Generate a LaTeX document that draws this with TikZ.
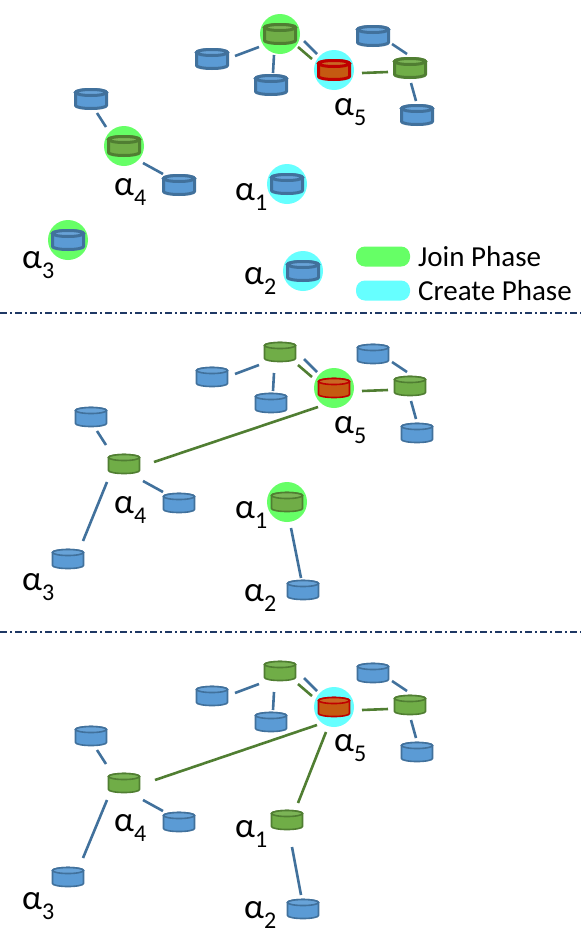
\documentclass[tikz,border=0pt]{standalone}
\usepackage{fontspec}
\setmainfont{Carlito}
\definecolor{dbb}{HTML}{5B9BD5}\definecolor{dbbb}{HTML}{41719C}
\definecolor{dbg}{HTML}{70AD47}\definecolor{dbgb}{HTML}{507E32}
\definecolor{dbr}{HTML}{C55A11}\definecolor{dbrb}{HTML}{C00000}
\definecolor{halog}{HTML}{66FF66}\definecolor{haloc}{HTML}{66FFFF}
\definecolor{sep}{HTML}{1F3864}
\tikzset{
 x=1pt,y=-1pt,
 dbbox/.style={rectangle,minimum width=31pt,minimum height=20pt,inner sep=0pt,outer sep=0pt},
 halo/.style={circle,minimum size=40pt,inner sep=0pt},
 hgreen/.style={halo,fill=halog},
 hcyan/.style={halo,fill=haloc},
 bline/.style={draw=dbbb,line width=2.6pt},
 gline/.style={draw=dbgb,line width=2.6pt},
 lab/.style={anchor=west,inner sep=0pt},
 legbox/.style={fill=#1,rounded corners=9pt,minimum width=54pt,minimum height=20pt,inner sep=0pt},
 legtext/.style={anchor=west,inner sep=0pt,font=\fontsize{29}{29}\selectfont},
 sepline/.style={draw=sep,line width=1.2pt,dash pattern=on 7pt off 3pt on 2pt off 3pt},
}
\newlength{\dbw}
% database cylinder: name, position, colour name
\newcommand{\db}[3]{%
 \node[dbbox] (#1) at (#2) {};
 \filldraw[draw=#3b,fill=#3,line width=\dbw,line join=round]
   ([shift={(-15.5,-6.5)}]#1.center) -- ([shift={(-15.5,6.5)}]#1.center)
   arc[start angle=180,end angle=360,x radius=15.5pt,y radius=3pt]
   -- ([shift={(15.5,-6.5)}]#1.center)
   arc[start angle=0,end angle=180,x radius=15.5pt,y radius=3pt] -- cycle;
 \filldraw[draw=#3b,fill=#3!92!white,line width=\dbw]
   ([shift={(0,-6.5)}]#1.center) ellipse[x radius=15.5pt,y radius=3pt];
}
\newcommand{\conn}[5]{\draw[#1] ([shift={(#3)}]#2.center) -- ([shift={(#5)}]#4.center);}
\newcommand{\alab}[1]{{\fontsize{35}{35}\selectfont α\raisebox{-10pt}{\fontsize{24}{24}\selectfont #1}}}
% common cluster: prefix, y offset from first panel
\newcommand{\cluster}[2]{%
 \db{#1a}{280,34+#2}{dbg}
 \db{#1b}{212,59+#2}{dbb}
 \db{#1c}{271,85+#2}{dbb}
 \db{#1e}{373,36+#2}{dbb}
 \db{#1f}{410,68+#2}{dbg}
 \db{#1g}{417,115+#2}{dbb}
 \db{#1h}{91,99+#2}{dbb}
 \db{#1i}{124,146+#2}{dbg}
 \db{#1j}{179,185+#2}{dbb}
 \conn{bline}{#1b}{23,-3}{#1a}{-21,13}
 \conn{bline}{#1a}{-6,21}{#1c}{2,-12}
 \conn{bline}{#1a}{24,7}{#1d}{-17,-16}
 \conn{gline}{#1a}{18,13}{#1d}{-22,-11}
 \conn{gline}{#1d}{28,3}{#1f}{-22,4}
 \conn{bline}{#1e}{19,8}{#1f}{-3,-14}
 \conn{bline}{#1f}{1,15}{#1g}{-1,-14}
 \conn{bline}{#1h}{6,14}{#1i}{-18,-19}
 \conn{bline}{#1i}{19,17}{#1j}{-16,-11}
}
\begin{document}
\begin{tikzpicture}
\useasboundingbox (0,0) rectangle (581,945);
\fill[white] (0,0) rectangle (581,945);
% ---------- separators
\coordinate (s1l) at (0,313); \coordinate (s1r) at (581,313);
\coordinate (s2l) at (0,632); \coordinate (s2r) at (581,632);
\draw[sepline] (s1l) -- (s1r);
\draw[sepline] (s2l) -- (s2r);
% ---------- panel 1
\setlength{\dbw}{3pt}
\node[hgreen] (p1ha) at (280,34) {};
\node[hcyan] (p1hd) at (334,70) {};
\node[hgreen] (p1hi) at (124,146) {};
\node[hcyan] (p1hk) at (287,184) {};
\node[hgreen] (p1hl) at (68,240) {};
\node[hcyan] (p1hm) at (303,271) {};
\db{p1d}{334,70}{dbr}
\cluster{p1}{0}
\db{p1k}{287,184}{dbb}
\db{p1l}{68,240}{dbb}
\db{p1m}{303,271}{dbb}
\node[lab] (p1l5) at (334,112) {\alab{5}};
\node[lab] (p1l4) at (114,192) {\alab{4}};
\node[lab] (p1l1) at (235,197) {\alab{1}};
\node[lab] (p1l3) at (22,265) {\alab{3}};
\node[lab] (p1l2) at (244,281) {\alab{2}};
\node[legbox=halog] (lg) at (383,256.5) {};
\node[legbox=haloc] (lc) at (383,290.5) {};
\node[legtext] (lgt) at (418,257) {Join Phase};
\node[legtext] (lct) at (418,291) {Create Phase};
% ---------- panel 2
\setlength{\dbw}{1.6pt}
\node[hgreen] (p2hd) at (334,388) {};
\node[hgreen] (p2hk) at (287,502) {};
\db{p2d}{334,388}{dbr}
\cluster{p2}{318}
\db{p2k}{287,502}{dbg}
\db{p2l}{68,559}{dbb}
\db{p2m}{303,590}{dbb}
\conn{bline}{p2i}{-17,18}{p2l}{15,-18}
\conn{gline}{p2i}{30,-2}{p2d}{-16,19}
\conn{bline}{p2k}{4,26}{p2m}{-2,-12}
\node[lab] (p2l5) at (334,430) {\alab{5}};
\node[lab] (p2l4) at (114,510) {\alab{4}};
\node[lab] (p2l1) at (235,515) {\alab{1}};
\node[lab] (p2l3) at (22,587) {\alab{3}};
\node[lab] (p2l2) at (244,598) {\alab{2}};
% ---------- panel 3
\node[hcyan] (p3hd) at (334,707) {};
\db{p3d}{334,707}{dbr}
\cluster{p3}{637}
\db{p3k}{287,820}{dbg}
\db{p3l}{68,877}{dbb}
\db{p3m}{303,909}{dbb}
\conn{bline}{p3i}{-17,17}{p3l}{15,-19}
\conn{gline}{p3i}{31,-3}{p3d}{-17,18}
\conn{gline}{p3d}{-8,25}{p3k}{11,-17}
\conn{bline}{p3k}{5,27}{p3m}{-2,-14}
\node[lab] (p3l5) at (334,748) {\alab{5}};
\node[lab] (p3l4) at (114,828) {\alab{4}};
\node[lab] (p3l1) at (235,834) {\alab{1}};
\node[lab] (p3l3) at (22,906) {\alab{3}};
\node[lab] (p3l2) at (244,915) {\alab{2}};
\end{tikzpicture}
\end{document}
